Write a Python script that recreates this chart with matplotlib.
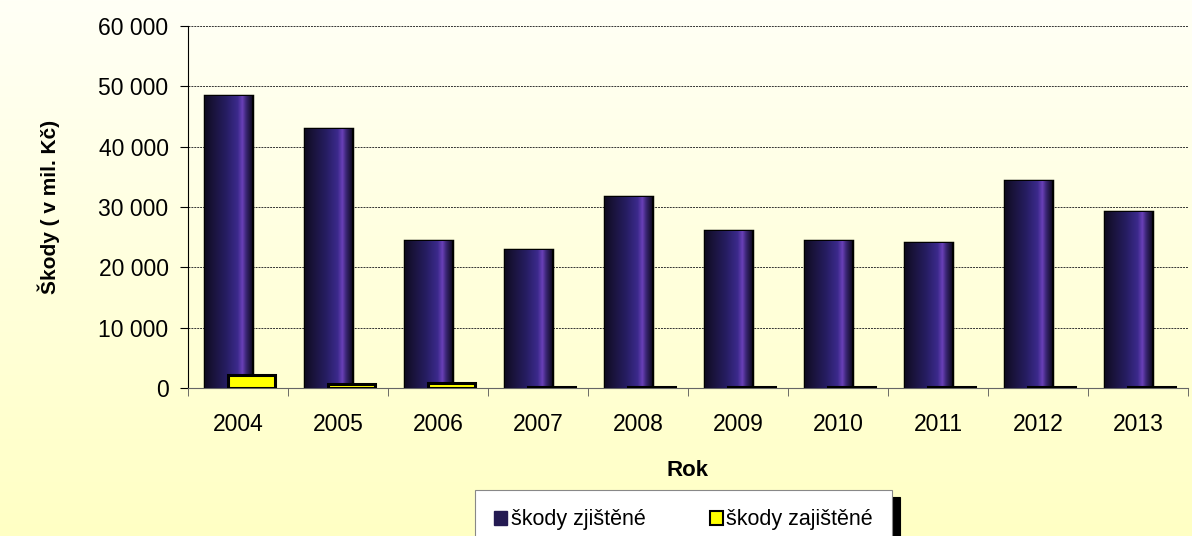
import numpy as np
import matplotlib.pyplot as plt
from matplotlib.colors import LinearSegmentedColormap
from matplotlib.patches import Patch
from matplotlib.ticker import FuncFormatter

years = ['2004', '2005', '2006', '2007', '2008', '2009', '2010', '2011', '2012', '2013']
skody_zjistene = [48400, 43000, 24400, 22900, 31700, 26000, 24300, 24100, 34300, 29200]
skody_zajistene = [2200, 700, 900, 150, 200, 150, 150, 120, 120, 150]

plt.rcParams['font.family'] = ['Liberation Sans', 'DejaVu Sans']

fig = plt.figure(figsize=(11.92, 5.36), dpi=100)

# page background: white at top fading to pale yellow
bg = fig.add_axes([0, 0, 1, 1], zorder=-10)
bg_cmap = LinearSegmentedColormap.from_list('bg', ['#fffff6', '#ffffc4'])
bg.imshow(np.linspace(0, 1, 256).reshape(-1, 1), cmap=bg_cmap, aspect='auto',
          extent=[0, 1, 0, 1])
bg.set_axis_off()

ax = fig.add_axes([188 / 1192, 1 - 388 / 536, 1000 / 1192, 362 / 536])
ax.patch.set_alpha(0)

x = np.arange(len(years))
w = 0.47
b1 = ax.bar(x - 0.10, skody_zjistene, width=w, color='#241a52',
            edgecolor='black', linewidth=2.5, zorder=3)
b2 = ax.bar(x + 0.13, skody_zajistene, width=w, color='#ffff00',
            edgecolor='black', linewidth=2.2, zorder=5)

# bevel-like horizontal shading inside the purple bars
bar_cmap = LinearSegmentedColormap.from_list(
    'bar', [(0, '#0e0a20'), (0.15, '#181238'), (0.45, '#261d62'),
            (0.7, '#3c2a8c'), (0.8, '#6a40b8'), (0.88, '#3a2674'), (1, '#120c28')])
grad = np.linspace(0, 1, 128).reshape(1, -1)
for r in b1:
    bx, by, bw, bh = r.get_x(), r.get_y(), r.get_width(), r.get_height()
    im = ax.imshow(grad, cmap=bar_cmap, aspect='auto', zorder=3.5,
                   extent=[bx, bx + bw, by, by + bh])
    im.set_clip_path(r)

ax.set_xlim(-0.5, len(years) - 0.5)
ax.set_ylim(0, 60000)
ax.set_yticks(np.arange(0, 60001, 10000))
ax.yaxis.set_major_formatter(FuncFormatter(lambda v, p: f'{int(v):,}'.replace(',', ' ')))
ax.set_xticks(x)
ax.set_xticklabels(years)
ax.set_xticks(np.arange(-0.5, len(years), 1), minor=True)
ax.tick_params(axis='x', which='major', length=0, labelsize=16.5, pad=18)
ax.tick_params(axis='x', which='minor', length=6, color='#555555')
ax.tick_params(axis='y', length=6, labelsize=16.5, pad=8)

ax.grid(axis='y', color='#333333', linestyle=(0, (2, 1)), linewidth=0.7, zorder=1)
for s in ['top', 'right']:
    ax.spines[s].set_visible(False)
ax.spines['left'].set_color('black')
ax.spines['bottom'].set_color('#666666')

ax.set_xlabel('Rok', fontsize=16, fontweight='bold', labelpad=17)
ax.set_ylabel('Škody ( v mil. Kč)', fontsize=15, fontweight='bold', labelpad=28)

handles = [Patch(facecolor='#241a52', edgecolor='#241a52'),
           Patch(facecolor='#ffff00', edgecolor='black', linewidth=1.5)]
leg = fig.legend(handles, ['škody zjištěné', 'škody zajištěné'], ncol=2,
                 loc='upper left', bbox_to_anchor=(475 / 1192, 1 - 490 / 536),
                 fontsize=15.5, frameon=True, fancybox=False,
                 shadow={'color': 'black', 'alpha': 1, 'ox': 6, 'oy': -5},
                 handlelength=0.6, handleheight=0.6, handletextpad=0.15,
                 columnspacing=3.0, borderpad=0.9, borderaxespad=0)
leg.get_frame().set_edgecolor('#888888')
leg.get_frame().set_facecolor('white')
leg.get_frame().set_linewidth(0.8)

fig.savefig('out.png', dpi=100)
